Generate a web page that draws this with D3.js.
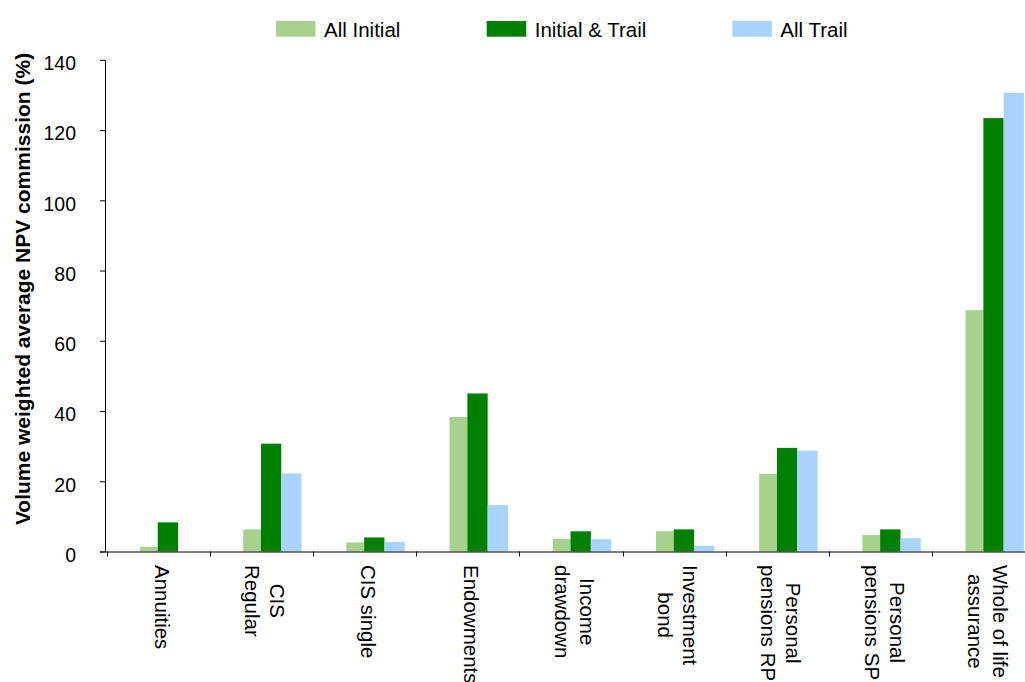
<!DOCTYPE html>
<html>
<head>
<meta charset="utf-8">
<script src="https://cdn.jsdelivr.net/npm/d3@7/dist/d3.min.js"></script>
<style>
  html, body { margin: 0; padding: 0; background: #fff; }
  svg { display: block; font-family: "Liberation Sans", Arial, sans-serif; }
</style>
</head>
<body>
<svg id="chart" width="1025" height="682"></svg>
<script>
// ---- data ----
const categories = ["Annuities", "CIS\nRegular", "CIS single", "Endowments", "Income\ndrawdown",
  "Investment\nbond", "Personal\npensions RP", "Personal\npensions SP", "Whole of life\nassurance"];
const seriesNames = ["All Initial", "Initial & Trail", "All Trail"];
const allInitial   = [1.3, 6.3, 2.6, 38.3, 3.6, 5.75, 22.1, 4.7, 68.7];
const initialTrail = [8.3, 30.7, 4.0, 45.0, 5.75, 6.3, 29.5, 6.3, 123.4];
const allTrail     = [0, 22.2, 2.7, 13.2, 3.5, 1.6, 28.7, 3.8, 130.6];
const yTicks = [0, 20, 40, 60, 80, 100, 120, 140];
const yTitle = "Volume weighted average NPV commission (%)";

const colors = ["#a9d18e", "#008000", "#a9d3ff"];
const seriesValues = [allInitial, initialTrail, allTrail];

const svg = d3.select("#chart");
svg.append("rect").attr("width", 1025).attr("height", 682).attr("fill", "#fff");

const x = d3.scaleBand().domain(categories).range([106.5, 1035.3]).padding(0);
const bw = x.bandwidth();
const sub = d3.scaleBand().domain(seriesNames).range([bw * 0.30, bw * 0.89]).padding(0);
const y = d3.scaleLinear().domain([0, 140]).range([551.5, 59.8]);

// bars
const rows = [];
categories.forEach((c, ci) => {
  seriesNames.forEach((s, si) => rows.push({ c, s, si, v: seriesValues[si][ci] }));
});
svg.append("g").selectAll("rect").data(rows).join("rect")
  .attr("x", d => x(d.c) + sub(d.s) + (d.si === 0 ? 2.5 : 0))
  .attr("width", d => sub.bandwidth() - (d.si === 0 ? 2.5 : 0))
  .attr("y", d => y(d.v))
  .attr("height", d => y(0) - y(d.v))
  .attr("fill", d => colors[d.si]);

// y axis
const yAxis = svg.append("g").attr("transform", "translate(105,0)")
  .call(d3.axisLeft(y).tickValues(yTicks).tickSize(5).tickSizeOuter(0).tickPadding(24));
yAxis.select(".domain").attr("stroke", "#000");
yAxis.selectAll(".tick line").attr("stroke", "#000");
yAxis.selectAll(".tick text")
  .attr("font-size", "19.5px")
  .attr("fill", "#000")
  .attr("font-family", "Liberation Sans, Arial, sans-serif")
  .attr("transform", "translate(0,3.5)");

// x axis line and boundary ticks
svg.append("line").attr("x1", 100).attr("x2", 1025)
  .attr("y1", y(0) + 0.5).attr("y2", y(0) + 0.5).attr("stroke", "#000");
const bounds = categories.map(c => x(c));
svg.append("g").selectAll("line").data(bounds).join("line")
  .attr("x1", d => Math.round(d) + 0.5).attr("x2", d => Math.round(d) + 0.5)
  .attr("y1", y(0)).attr("y2", y(0) + 5)
  .attr("stroke", "#000");

// x labels (rotated)
categories.forEach(c => {
  const lines = c.split("\n");
  const n = lines.length;
  const g = svg.append("g")
    .attr("transform", `translate(${x(c) + bw / 2 + 4},565) rotate(90)`);
  const texts = lines.map((t, i) => g.append("text")
    .attr("y", (i - (n - 1) / 2) * 25)
    .attr("dominant-baseline", "central")
    .attr("text-anchor", "middle")
    .attr("font-size", "20.5px")
    .attr("fill", "#000")
    .text(t));
  const maxLen = d3.max(texts, t => t.node().getComputedTextLength());
  texts.forEach(t => t.attr("x", maxLen / 2));
});

// y title
svg.append("text")
  .attr("transform", `translate(29.5,289) rotate(-90)`)
  .attr("text-anchor", "middle")
  .attr("font-size", "21px")
  .attr("font-weight", "bold")
  .attr("fill", "#000")
  .text(yTitle);

// legend
const legendX = [276, 486.7, 732.3];
const lg = svg.append("g");
seriesNames.forEach((s, i) => {
  lg.append("rect").attr("x", legendX[i]).attr("y", 21).attr("width", 39.5).attr("height", 15.7)
    .attr("fill", colors[i]);
  lg.append("text").attr("x", legendX[i] + 48).attr("y", 36.6)
    .attr("font-size", "20.5px").attr("fill", "#000").text(s);
});
</script>
</body>
</html>
